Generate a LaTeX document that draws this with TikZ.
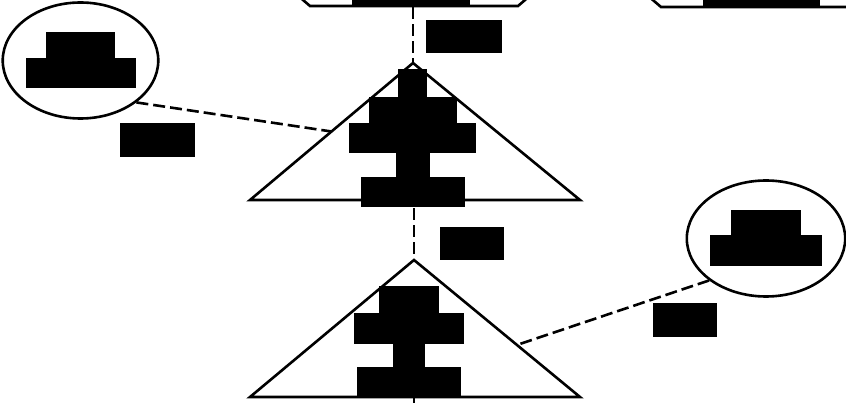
\documentclass[tikz,border=0pt]{standalone}
\usetikzlibrary{shapes.geometric, positioning, calc}

\newcommand{\blk}[2]{\rule{#1pt}{#2pt}}

\begin{document}
\begin{tikzpicture}[
    x=1pt, y=1pt,
    line width=2.6pt,
    txt/.style={inner sep=0pt, align=center, font=\offinterlineskip},
    oval/.style={ellipse, draw, minimum width=155pt, minimum height=116pt, inner sep=0pt, align=center, font=\offinterlineskip},
    link/.style={dash pattern=on 12pt off 5pt}
]
\useasboundingbox (0,0) rectangle (846,402);

% upper level, mostly off the page
\draw (296,408) -- (310,396) -- (518,396) -- (532,408);
\draw (647,407) -- (661,395) -- (870,395);
\node[txt] (root) at (411,411) {\blk{118}{30}};
\node[txt] (side) at (761.5,410) {\blk{117}{30}};

% the two triangles
\coordinate (t1top) at (413,339);
\coordinate (t1left) at (250,202);
\coordinate (t1right) at (580,202);
\coordinate (t2top) at (414,142);
\coordinate (t2left) at (250,5);
\coordinate (t2right) at (580,5);
\coordinate (below) at (414,-20);

\draw (t1top) -- (t1left) -- (t1right) -- cycle;
\draw (t2top) -- (t2left) -- (t2right) -- cycle;

\node[txt] (t1txt) at (412.5,264) {\blk{29}{28}\\\blk{88}{26}\\\blk{127}{30}\\\blk{34}{24}\\\blk{104}{30}};
\node[txt] (t2txt) at (409,60.5) {\blk{60}{27}\\\blk{110}{31}\\\blk{32}{23}\\\blk{104}{30}};

% the two ovals
\node[oval] (lq) at (80.5,341.5) {\blk{69}{26}\\\blk{110}{30}};
\node[oval] (rq) at (766,163.5) {\blk{70}{25}\\\blk{112}{31}};

% labels
\node[txt] (e1) at (464,365.5) {\blk{76}{33}};
\node[txt] (e2) at (157.5,262) {\blk{75}{34}};
\node[txt] (e3) at (472,158.5) {\blk{64}{33}};
\node[txt] (e4) at (685,82) {\blk{64}{34}};

\draw[link] (t1top |- root.south) -- (t1top);
\draw[link] (t2top |- t1txt.south) -- (t2top);
\draw[link] (t2top |- t2txt.south) -- (below);
\draw[link] (lq.south east) -- ($(t1top)!0.5!(t1left)$);
\draw[link] (rq.south west) -- ($(t2top)!0.62!(t2right)$);

\end{tikzpicture}
\end{document}
